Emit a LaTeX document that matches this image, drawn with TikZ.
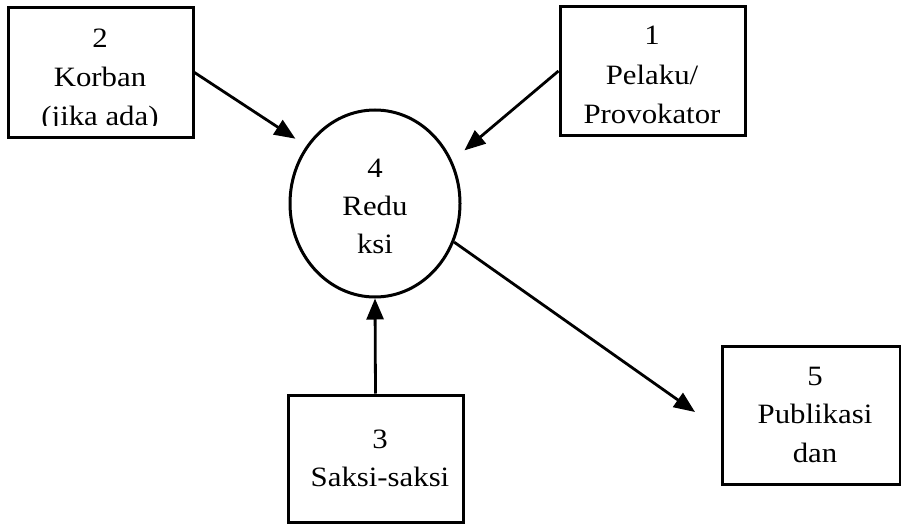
\documentclass[tikz,border=0pt]{standalone}
\usepackage{fontspec}
\setmainfont{Liberation Serif}[FakeStretch=1.1]
\usetikzlibrary{arrows.meta,shapes.geometric}
\begin{document}
\begin{tikzpicture}[x=1pt,y=-1pt,
  box/.style={draw,line width=3pt,inner sep=0pt,fill=none},
  txt/.style={anchor=base,inner sep=0pt,font=\fontsize{28}{32}\selectfont},
  arr/.style={line width=2.8pt,-{Triangle[length=21pt,width=17pt]}}]
\useasboundingbox (0,0) rectangle (901,524);
\fill[white] (0,0) rectangle (901,524);
% boxes
\node[box,minimum width=185pt,minimum height=129pt] (b2) at (100.5,72.5) {};
\node[box,minimum width=185pt,minimum height=128pt] (b1) at (652.5,71) {};
\node[box,ellipse,minimum width=170pt,minimum height=187pt] (c4) at (375,203.5) {};
\node[box,minimum width=175pt,minimum height=127pt] (b3) at (375.5,458.5) {};
\node[box,minimum width=178pt,minimum height=138pt] (b5) at (811,415) {};
% texts
\node[txt] (t2a) at (100,48) {2};
\node[txt] (t2b) at (100,87) {Korban};
\begin{scope}
\clip (10,10) rectangle (191,125);
\node[txt] (t2c) at (100,125) {(jika ada)};
\end{scope}
\node[txt] (t1a) at (652,45) {1};
\node[txt] (t1b) at (652,85) {Pelaku/};
\node[txt] (t1c) at (652,123) {Provokator};
\node[txt] (t4a) at (375,177) {4};
\node[txt] (t4b) at (375,215) {Redu};
\node[txt] (t4c) at (375,253) {ksi};
\node[txt] (t3a) at (380,448) {3};
\node[txt] (t3b) at (380,486) {Saksi-saksi};
\node[txt] (t5a) at (815,385) {5};
\node[txt] (t5b) at (815,423) {Publikasi};
\node[txt] (t5c) at (815,462) {dan};
% arrows
\coordinate (e5) at (695,412);
\draw[arr,shorten >=13pt] (b2.east) -- (c4.140);
\draw[arr,shorten >=16pt] (b1.west) -- (c4.29);
\draw[arr] (b3.north) -- (c4.south);
\draw[arr] (c4.-26) -- (e5);
\end{tikzpicture}
\end{document}
